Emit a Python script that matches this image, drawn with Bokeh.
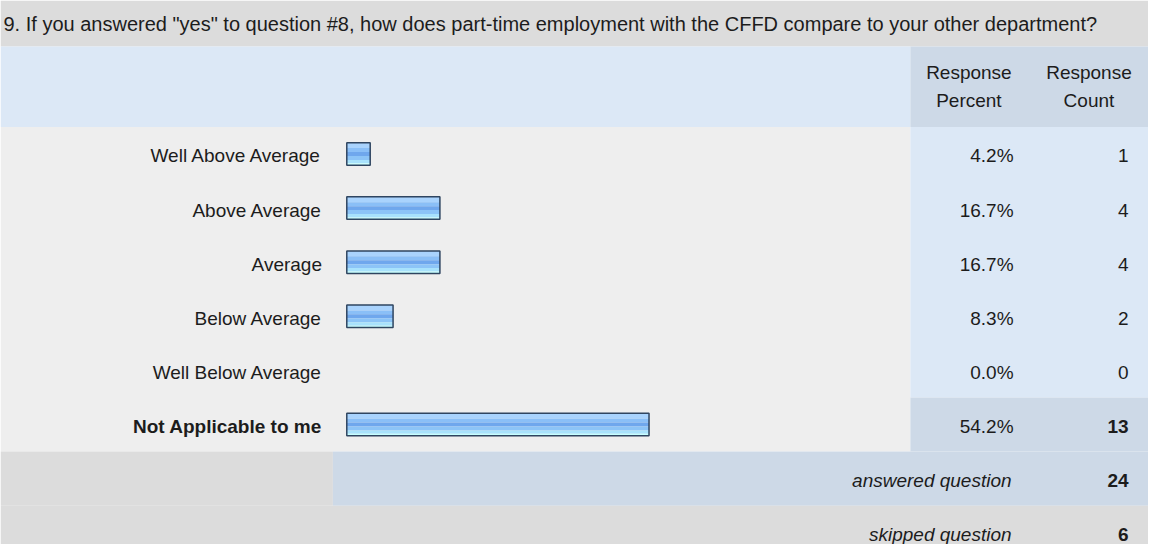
from bokeh.plotting import figure
from bokeh.models import Range1d, ColumnDataSource
from bokeh.core.properties import value
from bokeh.transform import dodge
from bokeh.embed import file_html
from bokeh.resources import INLINE

# ---------------- data ----------------
question = '9. If you answered "yes" to question #8, how does part-time employment with the CFFD compare to your other department?'
choices = ["Well Above Average", "Above Average", "Average", "Below Average",
           "Well Below Average", "Not Applicable to me"]
percents = [4.2, 16.7, 16.7, 8.3, 0.0, 54.2]
counts = [1, 4, 4, 2, 0, 13]
answered_label = "answered question"
answered_count = 24
skipped_label = "skipped question"
skipped_count = 6
header_pct = ["Response", "Percent"]
header_cnt = ["Response", "Count"]

# ---------------- layout constants ----------------
FONT = value("Liberation Sans")
FS = "19px"
FS_TITLE = "20px"
TXT = "#1c1c1c"
X0, PX_PER_PCT = 356.0, 5.62        # bar origin and scale (reference pixels)
Y0, RH = 161.6, 55.2                # first row centre, row height
XL, XR, YT, YB = 7, 1164, 5, 560    # visible page region

p = figure(width=1148, height=544, output_backend="svg", toolbar_location=None,
           x_range=Range1d(XL, XR), y_range=Range1d(YB, YT),
           x_axis_location=None, y_axis_location=None, min_border=0,
           tools="")
p.grid.visible = False
p.outline_line_color = None
p.background_fill_color = "white"
p.border_fill_color = "white"

p.extra_x_ranges["pct"] = Range1d((XL - X0) / PX_PER_PCT, (XR - X0) / PX_PER_PCT)
p.extra_y_ranges["rows"] = Range1d((YB - Y0) / RH, (YT - Y0) / RH)

n = len(choices)
rows = list(range(n))
last = n - 1

# ---------------- background cells ----------------
def box(l, r, t, b, c, yr="default"):
    p.quad(left=[l], right=[r], top=[t], bottom=[b], fill_color=c, line_color=None,
           y_range_name=yr)

box(XL, XR, YT, 52, "#dcdcdc")            # title bar
box(XL, 924, 52, 134, "#dce8f6")          # header left
box(924, XR, 52, 134, "#cdd9e7")          # header right
box(XL, 924, -0.5, last + 0.5, "#eeeeee", "rows")      # data rows
box(924, XR, -0.5, last - 0.5, "#dce8f6", "rows")      # pct/count cells
box(924, XR, last - 0.5, last + 0.5, "#cdd9e7", "rows")  # highlighted row cells
box(XL, 342, last + 0.5, last + 1.5, "#dcdcdc", "rows")  # answered left
box(342, XR, last + 0.5, last + 1.5, "#cdd9e7", "rows")  # answered right
box(XL, XR, last + 1.5, (YB - Y0) / RH, "#dcdcdc", "rows")  # skipped

# ---------------- title ----------------
p.text(x=[10], y=[28.5], text=[question], text_font=FONT, text_font_size=FS_TITLE,
       text_baseline="middle", text_align="left", text_color=TXT)

# header
for x, lines in ((983, header_pct), (1104, header_cnt)):
    p.text(x=[x, x], y=[78, 107], text=lines, text_font=FONT, text_font_size=FS,
           text_baseline="middle", text_align="center", text_color=TXT)

# ---------------- rows ----------------
styles = ["normal"] * (n - 1) + ["bold"]
src = ColumnDataSource(dict(
    row=rows, label=choices, pct=percents,
    pct_txt=[f"{v:.1f}%" for v in percents],
    cnt_txt=[str(c) for c in counts], style=styles,
    lx=[331] * n, px=[1028] * n, cx=[1144] * n))

p.text(x="lx", y="row", text="label", source=src, y_range_name="rows",
       text_font=FONT, text_font_size=FS, text_font_style="style",
       text_baseline="middle", text_align="right", text_color=TXT, y_offset=2)
p.text(x="px", y="row", text="pct_txt", source=src, y_range_name="rows",
       text_font=FONT, text_font_size=FS,
       text_baseline="middle", text_align="right", text_color=TXT, y_offset=2)
p.text(x="cx", y="row", text="cnt_txt", source=src, y_range_name="rows",
       text_font=FONT, text_font_size=FS, text_font_style="style",
       text_baseline="middle", text_align="right", text_color=TXT, y_offset=2)

# bars (gradient made of horizontal strips)
nz = [i for i in rows if percents[i] > 0]
bsrc = ColumnDataSource(dict(row=[rows[i] for i in nz], pct=[percents[i] for i in nz]))
strips = [(-11.5, -6, "#a9d3fd"), (-6, -2, "#8abff7"), (-2, 2, "#6fa7ed"),
          (2, 6, "#8cc4f7"), (6, 9.5, "#a8e2fc"), (9.5, 11.5, "#c6ffff")]
for a, b, c in strips:
    p.hbar(y=dodge("row", (a + b) / 2 / RH), height=(b - a) / RH, left=0, right="pct",
           source=bsrc, x_range_name="pct", y_range_name="rows",
           fill_color=c, line_color=None)
p.hbar(y="row", height=23 / RH, left=0, right="pct", source=bsrc,
       x_range_name="pct", y_range_name="rows",
       fill_alpha=0, line_color="#2f4560", line_width=1.5)

# ---------------- summary rows ----------------
p.text(x=[1026, 1026], y=[last + 1, last + 2], text=[answered_label, skipped_label],
       y_range_name="rows", text_font=FONT, text_font_size=FS, text_font_style="italic",
       text_baseline="middle", text_align="right", text_color=TXT, y_offset=2)
p.text(x=[1144, 1144], y=[last + 1, last + 2],
       text=[str(answered_count), str(skipped_count)],
       y_range_name="rows", text_font=FONT, text_font_size=FS, text_font_style="bold",
       text_baseline="middle", text_align="right", text_color=TXT, y_offset=2)

open("out.html", "w").write(file_html(p, INLINE))
